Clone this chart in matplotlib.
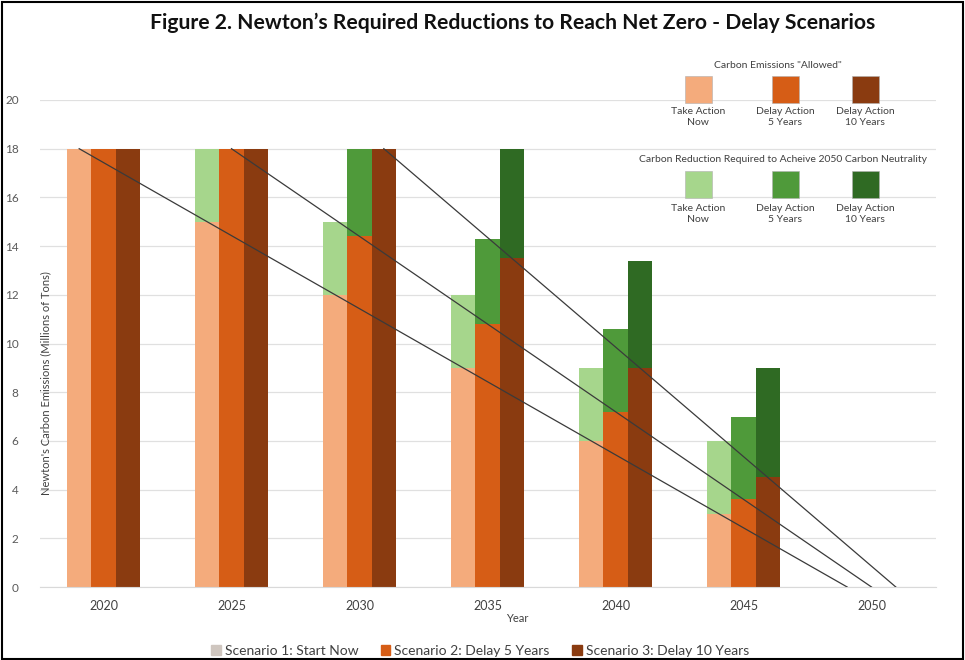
import matplotlib
matplotlib.use("Agg")
import matplotlib.pyplot as plt
from matplotlib.patches import Rectangle, Patch
import numpy as np

plt.rcParams['font.family'] = ['Lato', 'DejaVu Sans']

years = ['2020', '2025', '2030', '2035', '2040', '2045', '2050']

# emissions "allowed" per scenario (millions of tons)
allowed_now = [18, 15, 12, 9, 6, 3, 0]
allowed_d5 = [18, 18, 14.4, 10.8, 7.2, 3.6, 0]
allowed_d10 = [18, 18, 18, 13.5, 9, 4.5, 0]

# reduction needed, stacked on top
reduce_now = [0, 3, 3, 3, 3, 3, 0]
reduce_d5 = [0, 0, 3.6, 3.5, 3.4, 3.4, 0]
reduce_d10 = [0, 0, 0, 4.5, 4.4, 4.5, 0]

# straight paths to zero: start year index, start level, end year index
path_start = [0, 1, 2]
path_level = 18
path_end = 6

c_allowed = ['#f4ab7c', '#d65d16', '#8a3b10']
c_reduce = ['#a6d68c', '#4f9a3a', '#2f6a23']

W, H = 965, 660
fig = plt.figure(figsize=(W / 100, H / 100), dpi=100)

def fx(px):
    return px / W

def fy(py):
    return 1 - py / H

ax = fig.add_axes([fx(39.5), fy(587), (935.5 - 39.5) / W, (587 - 100) / H])

x = np.arange(len(years))
bw = 0.19
offsets = [-bw, 0, bw]
allowed = [allowed_now, allowed_d5, allowed_d10]
reduce = [reduce_now, reduce_d5, reduce_d10]

for i in range(3):
    ax.bar(x + offsets[i], allowed[i], width=bw, color=c_allowed[i], zorder=2)
    ax.bar(x + offsets[i], reduce[i], width=bw, bottom=allowed[i], color=c_reduce[i], zorder=2)

for i in range(3):
    xs = [path_start[i] + offsets[i], path_end + offsets[i]]
    ax.plot(xs, [path_level, 0], color='#3a3a3a', lw=0.9, zorder=3)

ax.set_xlim(-0.5, 6.5)
ax.set_ylim(0, 20)
ax.set_yticks(range(0, 21, 2))
ax.set_xticks(x)
ax.set_xticklabels(years, fontsize=9, color='#404040')
ax.tick_params(axis='y', labelsize=8.5, labelcolor='#595959', length=0, pad=15)
ax.tick_params(axis='x', length=0, pad=9)
ax.grid(axis='y', color='#e0e0e0', lw=0.9, zorder=0)
ax.set_axisbelow(True)
for s in ['top', 'right', 'left']:
    ax.spines[s].set_visible(False)
ax.spines['bottom'].set_color('#d9d9d9')

fig.text(fx(46), fy(383), "Newton's Carbon Emissions (Millions of Tons)", rotation=90,
         ha='center', va='center', fontsize=8, color='#404040')
fig.text(fx(517), fy(618), 'Year', ha='center', va='center', fontsize=8, color='#404040')

fig.text(fx(513), fy(23), 'Figure 2. Newton\u2019s Required Reductions to Reach Net Zero - Delay Scenarios',
         ha='center', va='center', fontsize=15.2, fontweight='bold', color='#111111')

# inset key, top right
key_x = [698, 785, 865]
key_names = ['Take Action\nNow', 'Delay Action\n5 Years', 'Delay Action\n10 Years']
fig.text(fx(778), fy(66), 'Carbon Emissions "Allowed"', ha='center', va='center',
         fontsize=7.5, color='#404040')
fig.text(fx(783), fy(160), 'Carbon Reduction Required to Acheive 2050 Carbon Neutrality',
         ha='center', va='center', fontsize=7.5, color='#404040')
sq = 27
for i in range(3):
    fig.patches.append(Rectangle((fx(key_x[i] - sq / 2), fy(76 + sq)), sq / W, sq / H,
                                 transform=fig.transFigure, facecolor=c_allowed[i],
                                 edgecolor='#b0b0b0', lw=0.4))
    fig.text(fx(key_x[i]), fy(117), key_names[i], ha='center', va='center',
             fontsize=7.5, color='#404040', linespacing=1.3)
    fig.patches.append(Rectangle((fx(key_x[i] - sq / 2), fy(171 + sq)), sq / W, sq / H,
                                 transform=fig.transFigure, facecolor=c_reduce[i],
                                 edgecolor='#b0b0b0', lw=0.4))
    fig.text(fx(key_x[i]), fy(214), key_names[i], ha='center', va='center',
             fontsize=7.5, color='#404040', linespacing=1.3)

handles = [Patch(color='#cfc6bf', label='Scenario 1: Start Now'),
           Patch(color=c_allowed[1], label='Scenario 2: Delay 5 Years'),
           Patch(color=c_allowed[2], label='Scenario 3: Delay 10 Years')]
fig.legend(handles=handles, loc='center', bbox_to_anchor=(fx(480), fy(651)), ncol=3,
           frameon=False, fontsize=10, handlelength=0.7, handleheight=0.7,
           handletextpad=0.3, columnspacing=1.6, labelcolor='#404040')

fig.patches.append(Rectangle((fx(2), fy(659)), (W - 4) / W, (659 - 2) / H,
                             transform=fig.transFigure, fill=False, edgecolor='black', lw=1.5))

fig.savefig('out.png', dpi=100)
